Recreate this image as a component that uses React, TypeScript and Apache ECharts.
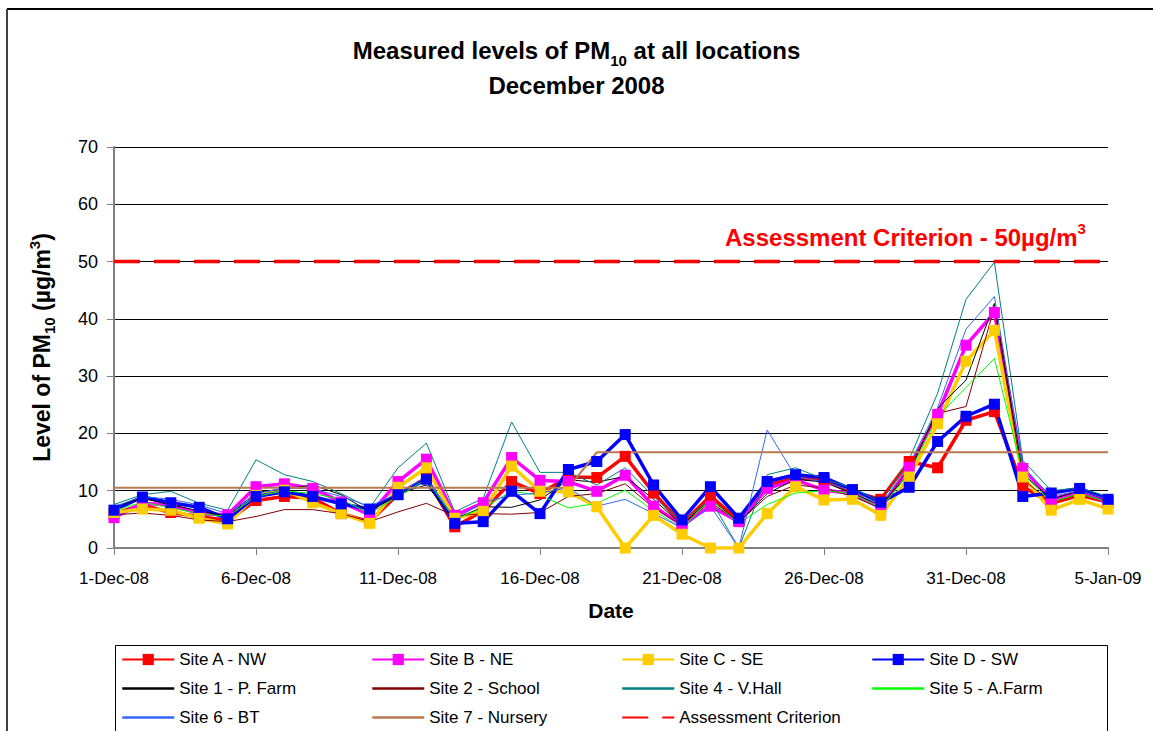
import React, { useEffect, useRef } from "react";
import * as echarts from "echarts";

const categories = [
  "1-Dec-08", "2-Dec-08", "3-Dec-08", "4-Dec-08", "5-Dec-08", "6-Dec-08", "7-Dec-08", "8-Dec-08", "9-Dec-08", "10-Dec-08",
  "11-Dec-08", "12-Dec-08", "13-Dec-08", "14-Dec-08", "15-Dec-08", "16-Dec-08", "17-Dec-08", "18-Dec-08", "19-Dec-08", "20-Dec-08",
  "21-Dec-08", "22-Dec-08", "23-Dec-08", "24-Dec-08", "25-Dec-08", "26-Dec-08", "27-Dec-08", "28-Dec-08", "29-Dec-08", "30-Dec-08",
  "31-Dec-08", "1-Jan-09", "2-Jan-09", "3-Jan-09", "4-Jan-09", "5-Jan-09",
];

const siteA = [6.0, 7.5, 6.2, 5.5, 4.8, 8.3, 9.0, 8.7, 6.0, 4.6, 9.4, 12.2, 3.7, 6.5, 11.6, 9.5, 12.4, 12.3, 16.0, 9.6, 4.2, 9.1, 4.8, 11.0, 12.2, 11.9, 9.8, 8.5, 15.1, 14.0, 22.3, 23.8, 10.7, 7.8, 9.2, 8.0];
const siteB = [5.3, 7.8, 7.5, 6.0, 5.8, 10.7, 11.2, 10.4, 8.0, 5.8, 11.6, 15.5, 5.7, 7.9, 15.8, 11.8, 11.6, 9.9, 12.7, 7.3, 4.0, 7.3, 4.6, 10.4, 11.9, 10.1, 9.5, 7.0, 14.1, 23.3, 35.4, 41.1, 13.9, 8.5, 9.8, 8.2];
const siteC = [6.2, 6.8, 6.6, 5.2, 4.2, 9.2, 10.1, 7.9, 6.0, 4.3, 10.6, 14.0, 5.2, 6.4, 14.3, 9.9, 9.8, 7.2, 0, 5.7, 2.4, 0, 0, 6.0, 10.7, 8.4, 8.5, 5.7, 12.4, 21.7, 32.6, 38.0, 12.4, 6.6, 8.5, 6.8];
const siteD = [6.6, 8.9, 7.9, 7.1, 5.1, 9.0, 9.8, 9.0, 7.7, 6.8, 9.3, 12.0, 4.3, 4.6, 9.9, 6.0, 13.7, 15.1, 19.8, 11.0, 4.9, 10.7, 5.2, 11.6, 12.8, 12.3, 10.2, 8.0, 10.6, 18.6, 23.0, 25.1, 9.0, 9.6, 10.4, 8.5];
const site1 = [7.2, 8.7, 7.5, 6.5, 5.5, 9.7, 10.3, 11.0, 9.3, 6.3, 9.5, 11.0, 5.0, 7.2, 7.1, 8.4, 11.9, 11.5, 12.5, 8.5, 4.0, 8.5, 4.5, 9.5, 12.0, 11.5, 9.5, 7.5, 13.0, 24.4, 29.3, 42.7, 13.0, 8.5, 10.0, 8.5];
const site2 = [5.8, 6.1, 5.7, 4.9, 4.6, 5.5, 6.7, 6.7, 6.0, 4.6, 6.3, 7.8, 5.6, 6.0, 5.9, 6.2, 9.0, 9.5, 11.2, 7.0, 4.0, 8.0, 4.5, 9.0, 11.0, 10.5, 9.0, 7.0, 14.0, 23.5, 24.7, 42.0, 12.0, 8.0, 9.5, 8.0];
const site4 = [7.6, 9.3, 9.9, 7.8, 6.6, 15.4, 12.8, 11.6, 9.5, 7.0, 14.0, 18.3, 6.3, 8.7, 22.0, 13.2, 13.2, 11.0, 14.0, 9.0, 4.5, 8.5, 0, 12.8, 14.0, 12.0, 10.5, 8.0, 15.5, 27.0, 43.4, 49.9, 15.3, 10.0, 10.5, 9.0];
const site5 = [6.5, 8.0, 7.0, 6.0, 5.5, 9.0, 10.0, 9.5, 8.5, 6.0, 9.0, 12.0, 5.0, 7.0, 9.9, 9.2, 7.0, 7.8, 10.1, 6.5, 3.5, 8.5, 4.3, 7.6, 9.6, 10.0, 9.5, 7.0, 13.0, 23.0, 28.0, 33.1, 13.0, 8.0, 9.5, 8.0];
const site6 = [7.2, 9.0, 8.5, 7.5, 6.0, 9.5, 10.5, 10.3, 9.0, 7.3, 9.5, 12.5, 5.0, 8.0, 9.2, 9.6, 10.5, 7.3, 8.5, 6.0, 3.5, 7.3, 0, 20.6, 12.5, 11.5, 10.0, 7.5, 14.5, 24.5, 38.2, 43.9, 14.0, 9.0, 10.0, 8.5];
const site7 = [10.5, 10.5, 10.5, 10.5, 10.5, 10.5, 10.5, 10.5, 10.5, 10.5, 10.5, 10.5, 10.5, 10.5, 10.5, 10.5, 10.5, 16.7, 16.7, 16.7, 16.7, 16.7, 16.7, 16.7, 16.7, 16.7, 16.7, 16.7, 16.7, 16.7, 16.7, 16.7, 16.7, 16.7, 16.7, 16.7];
const criterion = [50, 50, 50, 50, 50, 50, 50, 50, 50, 50, 50, 50, 50, 50, 50, 50, 50, 50, 50, 50, 50, 50, 50, 50, 50, 50, 50, 50, 50, 50, 50, 50, 50, 50, 50, 50];

const FONT = '"Liberation Sans", Arial, sans-serif';

export default function App() {
  const ref = useRef<HTMLDivElement>(null);

  useEffect(() => {
    if (!ref.current) return;
    const chart = echarts.init(ref.current, null, { renderer: "svg" });

    const marker = (name: string, color: string, data: number[]) => ({
      name,
      type: "line",
      data,
      symbol: "rect",
      symbolSize: 11,
      showAllSymbol: true,
      lineStyle: { color, width: 3.5 },
      itemStyle: { color },
      z: 3,
    });
    const thin = (name: string, color: string, data: number[], width = 1) => ({
      name,
      type: "line",
      data,
      symbol: "none",
      lineStyle: { color, width },
      itemStyle: { color },
      z: 3,
    });

    const legendCommon = {
      orient: "vertical",
      padding: 0,
      itemGap: 12,
      itemWidth: 52,
      itemHeight: 14,
      height: 79,
      selectedMode: false,
      textStyle: { fontSize: 17, fontFamily: FONT, color: "#000" },
    };
    const thinItem = (name: string) => ({ name, lineStyle: { width: 2.5 }, itemStyle: { opacity: 0 } });

    chart.setOption({
      animation: false,
      backgroundColor: "#fff",
      textStyle: { fontFamily: FONT },
      title: {
        text: "Measured levels of PM{sub|10} at all locations\nDecember 2008",
        left: "center",
        top: 28,
        textStyle: {
          fontFamily: FONT,
          fontSize: 24,
          fontWeight: "bold",
          color: "#000",
          lineHeight: 35,
          rich: {
            sub: { fontFamily: FONT, fontSize: 15, fontWeight: "bold", color: "#000", lineHeight: 22, verticalAlign: "bottom" },
          },
        },
      },
      grid: { left: 114, right: 45, top: 147, bottom: 183, containLabel: false, outerBoundsMode: "none" },
      xAxis: {
        type: "category",
        data: categories,
        boundaryGap: false,
        name: "Date",
        nameLocation: "middle",
        nameGap: 52,
        nameTextStyle: { fontFamily: FONT, fontSize: 21, fontWeight: "bold", color: "#000" },
        axisLine: { lineStyle: { color: "#808080", width: 2 } },
        axisTick: { show: true, interval: 4, length: 7, lineStyle: { color: "#808080", width: 1 } },
        axisLabel: { interval: 4, fontSize: 17, color: "#000", margin: 22, fontFamily: FONT },
        splitLine: { show: false },
      },
      yAxis: {
        type: "value",
        min: 0,
        max: 70,
        interval: 10,
        name: "Level of PM{sub|10} (µg/m{sup|3})",
        nameLocation: "middle",
        nameGap: 57,
        nameRotate: 90,
        nameTextStyle: {
          fontFamily: FONT,
          fontSize: 23,
          fontWeight: "bold",
          color: "#000",
          lineHeight: 30,
          rich: {
            sub: { fontFamily: FONT, fontSize: 15, fontWeight: "bold", color: "#000", lineHeight: 20, verticalAlign: "bottom" },
            sup: { fontFamily: FONT, fontSize: 15, fontWeight: "bold", color: "#000", lineHeight: 20, verticalAlign: "top" },
          },
        },
        axisLine: { show: true, lineStyle: { color: "#808080", width: 2 } },
        axisTick: { show: true, length: 7, lineStyle: { color: "#808080", width: 1 } },
        axisLabel: { fontSize: 18, color: "#000", margin: 16, fontFamily: FONT },
        splitLine: { show: true, lineStyle: { color: "#000", width: 1 } },
      },
      legend: [
        { ...legendCommon, left: 121, top: 651, data: ["Site A - NW", thinItem("Site 1 - P. Farm"), thinItem("Site 6 - BT")] },
        { ...legendCommon, left: 371, top: 651, data: ["Site B - NE", thinItem("Site 2 - School"), thinItem("Site 7 - Nursery")] },
        { ...legendCommon, left: 621, top: 651, data: ["Site C - SE", thinItem("Site 4 - V.Hall"), { name: "Assessment Criterion", itemStyle: { opacity: 0 } }] },
        { ...legendCommon, left: 871, top: 651, data: ["Site D - SW", thinItem("Site 5 - A.Farm")] },
      ],
      graphic: [
        { type: "line", shape: { x1: 7, y1: 9, x2: 1153, y2: 9 }, style: { stroke: "#000", lineWidth: 2 }, z: 10 },
        { type: "line", shape: { x1: 7, y1: 9, x2: 7, y2: 731 }, style: { stroke: "#404040", lineWidth: 2 }, z: 10 },
        { type: "rect", shape: { x: 115.5, y: 645.5, width: 992, height: 100 }, style: { fill: "none", stroke: "#000", lineWidth: 1 }, z: 10 },
        {
          type: "text",
          x: 725,
          y: 237,
          z: 10,
          style: {
            text: "Assessment Criterion - 50µg/m{sup|3}",
            fill: "#FF0000",
            fontFamily: FONT,
            fontSize: 24,
            fontWeight: "bold",
            lineHeight: 32,
            verticalAlign: "middle",
            rich: {
              sup: { fontFamily: FONT, fontSize: 15, fontWeight: "bold", fill: "#FF0000", lineHeight: 20, verticalAlign: "top" },
            },
          },
        },
      ],
      series: [
        marker("Site A - NW", "#FF0000", siteA),
        marker("Site B - NE", "#FF00FF", siteB),
        marker("Site C - SE", "#FFCC00", siteC),
        marker("Site D - SW", "#0000FF", siteD),
        thin("Site 1 - P. Farm", "#000000", site1),
        thin("Site 2 - School", "#800000", site2),
        thin("Site 4 - V.Hall", "#008080", site4),
        thin("Site 5 - A.Farm", "#00FF00", site5),
        thin("Site 6 - BT", "#3366FF", site6),
        thin("Site 7 - Nursery", "#B87850", site7, 2),
        {
          name: "Assessment Criterion",
          type: "line",
          data: criterion,
          symbol: "none",
          lineStyle: { color: "#FF0000", width: 3.5, type: [26, 14] },
          itemStyle: { color: "#FF0000" },
          z: 4,
        },
      ],
    });

    return () => chart.dispose();
  }, []);

  return (
    <div
      ref={ref}
      style={{ position: "absolute", left: 0, top: 0, width: 1153, height: 731, background: "#fff" }}
    />
  );
}
